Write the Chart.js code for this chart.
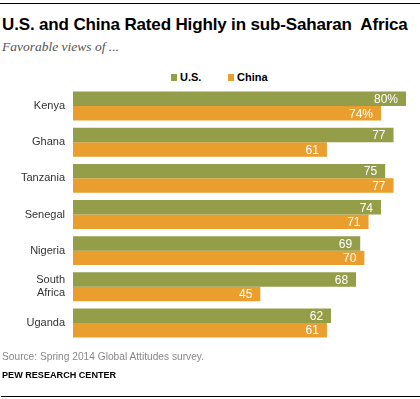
<!DOCTYPE html>
<html>
<head>
<meta charset="utf-8">
<script src="https://cdn.jsdelivr.net/npm/chart.js@4/dist/chart.umd.min.js"></script>
<style>
  html, body { margin: 0; padding: 0; background: #fff; }
  #wrap { position: relative; width: 420px; height: 399px; overflow: hidden; font-family: "Liberation Sans", Arial, sans-serif; }
  #c { position: absolute; left: 0; top: 0; }
  .topline { position: absolute; left: 0; top: 3px; width: 420px; height: 1px; background: #000; }
  .botline { position: absolute; left: 1px; top: 396px; width: 419px; height: 1px; background: #000; }
  .title { position: absolute; left: 2px; top: 15px; font-weight: bold; font-size: 17px; color: #000; white-space: nowrap; letter-spacing: -0.15px; }
  .sub { position: absolute; left: 2px; top: 39px; font-family: "Liberation Serif", "DejaVu Serif", serif; font-style: italic; font-size: 13.5px; color: #555; white-space: nowrap; }
  .leg { position: absolute; top: 71px; font-weight: bold; font-size: 11px; color: #000; white-space: nowrap; }
  .leg span.sw { display: inline-block; width: 6px; height: 7px; margin-right: 3px; vertical-align: -0px; }
  .src { position: absolute; left: 2px; top: 351px; font-size: 10.2px; color: #888; white-space: nowrap; }
  .pew { position: absolute; left: 2px; top: 370px; font-weight: bold; font-size: 9.1px; color: #000; white-space: nowrap; }
</style>
</head>
<body>
<div id="wrap">
  <div class="topline"></div>
  <div class="title">U.S. and China Rated Highly in sub-Saharan&nbsp; Africa</div>
  <div class="sub">Favorable views of ...</div>
  <div class="leg" style="left:171px"><span class="sw" style="background:#949d48"></span>U.S.</div>
  <div class="leg" style="left:228px"><span class="sw" style="background:#ea9e2d"></span>China</div>
  <canvas id="c" width="420" height="399"></canvas>
  <div class="src">Source: Spring 2014 Global Attitudes survey.</div>
  <div class="pew">PEW RESEARCH CENTER</div>
  <div class="botline"></div>
</div>
<script>
const categories = ["Kenya", "Ghana", "Tanzania", "Senegal", "Nigeria", ["South", "Africa"], "Uganda"];
const seriesNames = ["U.S.", "China"];
const usValues = [80, 77, 75, 74, 69, 68, 62];
const chinaValues = [74, 61, 77, 71, 70, 45, 61];
const colors = ["#949d48", "#ea9e2d"];

const valueLabels = {
  id: "valueLabels",
  afterDatasetsDraw(chart) {
    const ctx = chart.ctx;
    ctx.save();
    ctx.fillStyle = "#ffffff";
    ctx.font = "12px 'Liberation Sans', Arial, sans-serif";
    ctx.textAlign = "right";
    ctx.textBaseline = "middle";
    chart.data.datasets.forEach((ds, di) => {
      const meta = chart.getDatasetMeta(di);
      meta.data.forEach((bar, i) => {
        const v = ds.data[i];
        const txt = (i === 0) ? v + "%" : String(v);
        ctx.fillText(txt, bar.x - 8, bar.y + 1);
      });
    });
    ctx.restore();
  }
};

new Chart(document.getElementById("c"), {
  type: "bar",
  data: {
    labels: categories,
    datasets: [
      { label: seriesNames[0], data: usValues, backgroundColor: colors[0] },
      { label: seriesNames[1], data: chinaValues, backgroundColor: colors[1] }
    ]
  },
  options: {
    indexAxis: "y",
    responsive: false,
    animation: false,
    devicePixelRatio: 1,
    layout: { padding: { left: 0, right: 14, top: 88, bottom: 58 } },
    datasets: { bar: { categoryPercentage: 0.8, barPercentage: 1.0, borderWidth: 0 } },
    plugins: { legend: { display: false }, tooltip: { enabled: false }, title: { display: false } },
    scales: {
      x: { display: false, min: 0, max: 80 },
      y: {
        grid: { display: false, drawTicks: false },
        border: { display: false },
        ticks: { color: "#333", font: { size: 11, family: "'Liberation Sans', Arial, sans-serif" }, padding: 8, crossAlign: "near" },
        afterFit(scale) { scale.width = 73; }
      }
    }
  },
  plugins: [valueLabels]
});
</script>
</body>
</html>
